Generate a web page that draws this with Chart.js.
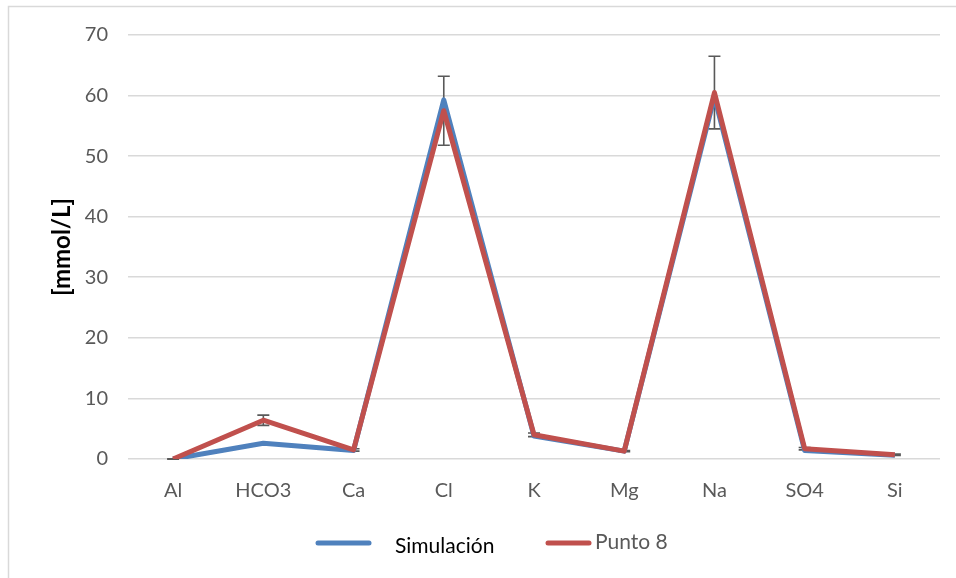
<!DOCTYPE html>
<html>
<head>
<meta charset="utf-8">
<script src="https://cdn.jsdelivr.net/npm/chart.js@4.4.1/dist/chart.umd.min.js"></script>
<style>
  html, body { margin: 0; padding: 0; background: #ffffff; }
  #wrap { position: relative; width: 956px; height: 578px; }
</style>
</head>
<body>
<div id="wrap"><canvas id="chart" width="956" height="578"></canvas></div>
<script>
// Ion concentrations, mmol/L
const categories = ['Al', 'HCO3', 'Ca', 'Cl', 'K', 'Mg', 'Na', 'SO4', 'Si'];
const simulacion = [0.0, 2.6, 1.4, 59.3, 3.8, 1.3, 59.8, 1.4, 0.6];
const punto8 = [0.0, 6.4, 1.5, 57.5, 4.0, 1.3, 60.5, 1.7, 0.7];
const punto8Error = [0.05, 0.85, 0.2, 5.7, 0.3, 0.1, 6.0, 0.2, 0.1];
const yTicks = [0, 10, 20, 30, 40, 50, 60, 70];
const seriesNames = ['Simulación', 'Punto 8'];

const FONT = 'Lato, "Open Sans", sans-serif';
const BLUE = '#4f81bd';
const RED = '#c0504d';

// Error bars for "Punto 8", drawn under the lines
const errorBars = {
  id: 'errorBars',
  beforeDatasetsDraw(chart) {
    const { ctx, scales: { x, y } } = chart;
    ctx.save();
    ctx.strokeStyle = '#595959';
    ctx.lineWidth = 1.6;
    punto8.forEach((v, i) => {
      const px = x.getPixelForValue(i);
      const top = y.getPixelForValue(v + punto8Error[i]);
      const bot = y.getPixelForValue(v - punto8Error[i]);
      ctx.beginPath();
      ctx.moveTo(px, top); ctx.lineTo(px, bot);
      ctx.moveTo(px - 6, top); ctx.lineTo(px + 6, top);
      ctx.moveTo(px - 6, bot); ctx.lineTo(px + 6, bot);
      ctx.stroke();
    });
    ctx.restore();
  }
};

// Outer frame and legend
const frameAndLegend = {
  id: 'frameAndLegend',
  afterDraw(chart) {
    const { ctx } = chart;
    ctx.save();
    ctx.strokeStyle = '#d9d9d9';
    ctx.lineWidth = 1.5;
    ctx.beginPath();
    ctx.moveTo(8.5, 580); ctx.lineTo(8.5, 6.5); ctx.lineTo(960, 6.5);
    ctx.stroke();

    const ly = 543;
    ctx.lineCap = 'round';
    ctx.lineWidth = 5;
    ctx.strokeStyle = BLUE;
    ctx.beginPath(); ctx.moveTo(318, ly); ctx.lineTo(369, ly); ctx.stroke();
    ctx.strokeStyle = RED;
    ctx.beginPath(); ctx.moveTo(548, ly); ctx.lineTo(589, ly); ctx.stroke();

    ctx.font = '21px ' + FONT;
    ctx.textBaseline = 'middle';
    ctx.textAlign = 'left';
    ctx.fillStyle = '#000000';
    ctx.fillText(seriesNames[0], 395, ly + 3);
    ctx.fillStyle = '#595959';
    ctx.fillText(seriesNames[1], 595, ly - 1);
    ctx.restore();
  }
};

new Chart(document.getElementById('chart'), {
  type: 'line',
  data: {
    labels: categories,
    datasets: [
      {
        label: seriesNames[0],
        data: simulacion,
        order: 2,
        borderColor: BLUE,
        backgroundColor: BLUE,
        borderWidth: 5,
        borderJoinStyle: 'round',
        borderCapStyle: 'butt',
        pointRadius: 0,
        tension: 0
      },
      {
        label: seriesNames[1],
        data: punto8,
        order: 1,
        borderColor: RED,
        backgroundColor: RED,
        borderWidth: 5,
        borderJoinStyle: 'round',
        borderCapStyle: 'butt',
        pointRadius: 0,
        tension: 0
      }
    ]
  },
  options: {
    responsive: false,
    animation: false,
    layout: { padding: { left: 0, right: 16, top: 35, bottom: 0 } },
    plugins: {
      legend: { display: false },
      tooltip: { enabled: false }
    },
    scales: {
      x: {
        offset: true,
        grid: { display: false, drawTicks: false },
        border: { display: false },
        ticks: {
          color: '#595959',
          font: { family: FONT, size: 20 },
          padding: 20,
          maxRotation: 0,
          autoSkip: false
        },
        afterFit(scale) { scale.height = 119; }
      },
      y: {
        min: 0,
        max: 70,
        afterBuildTicks(scale) { scale.ticks = yTicks.map(v => ({ value: v })); },
        grid: { color: '#d9d9d9', lineWidth: 1.6, drawTicks: false },
        border: { display: false },
        ticks: {
          color: '#595959',
          font: { family: FONT, size: 20 },
          padding: 20
        },
        title: {
          display: true,
          text: '[mmol/L]',
          color: '#000000',
          font: { family: FONT, size: 24, weight: 'bold' },
          padding: { top: 48, bottom: 0 }
        },
        afterFit(scale) { scale.width = 128; }
      }
    }
  },
  plugins: [errorBars, frameAndLegend]
});
</script>
</body>
</html>
